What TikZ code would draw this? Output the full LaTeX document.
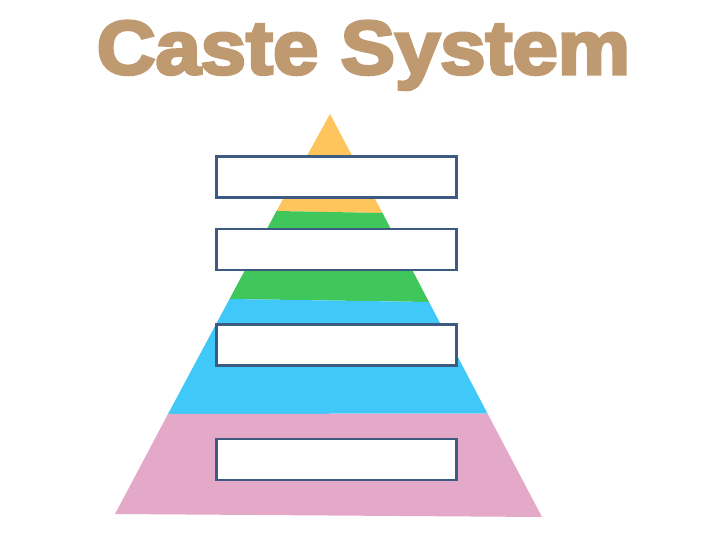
\documentclass[tikz,border=0pt]{standalone}
\usepackage{fontspec}
\newfontfamily\titlefont[FakeBold=4]{Liberation Sans Bold}
\usepackage{xcolor}
\definecolor{TierYellow}{HTML}{FDC55C}
\definecolor{TierGreen}{HTML}{3FC75B}
\definecolor{TierBlue}{HTML}{40C8F9}
\definecolor{TierPink}{HTML}{E4A8C8}
\definecolor{BoxBorder}{HTML}{3D5A80}
\definecolor{TitleTan}{HTML}{BF9A70}
\usepackage{tikz}
\usetikzlibrary{positioning}
\tikzset{
  label box/.style={
    rectangle, draw=BoxBorder, fill=white, line width=2.2pt,
    minimum width=240pt, minimum height=41pt, inner sep=0pt
  },
  title text/.style={
    font=\titlefont\fontsize{76}{76}\selectfont, text=TitleTan,
    inner sep=0pt, xscale=1.07
  },
}
\begin{document}
\begin{tikzpicture}[x=1pt, y=-1pt]
  \useasboundingbox (0,0) rectangle (720,540);

  % title
  \node[title text, anchor=base] (title) at (363.5,74) {Caste System};

  % pyramid tiers
  \fill[TierYellow] (330,114) -- (382.5,213) -- (276.5,211) -- cycle;
  \fill[TierGreen]  (276.5,211) -- (382.5,213) -- (429,302) -- (229.5,299) -- cycle;
  \fill[TierBlue]   (229.5,299) -- (429,302) -- (487.5,413.5) -- (168,414) -- cycle;
  \fill[TierPink]   (168,414) -- (487.5,413.5) -- (542,517) -- (115,514) -- cycle;

  % empty label boxes
  \node[label box] (tier1) at (336.5,177) {};
  \node[label box] (tier2) at (336.5,249.5) {};
  \node[label box] (tier3) at (336.5,345) {};
  \node[label box] (tier4) at (336.5,459.5) {};
\end{tikzpicture}
\end{document}
